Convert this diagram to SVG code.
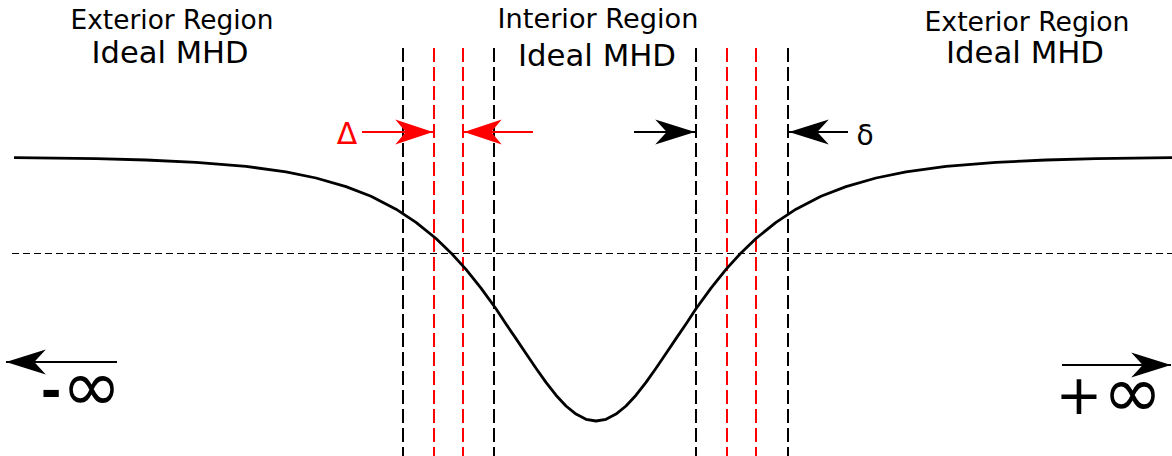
<svg xmlns="http://www.w3.org/2000/svg" width="1172" height="456" viewBox="0 0 1172 456">
<style>
.t{font-family:"DejaVu Sans","Liberation Sans",sans-serif;fill:#000;text-anchor:middle}
.h1{font-size:26px}
.h2{font-size:31px}
.vb{stroke:#000;stroke-width:2;stroke-dasharray:14,5;fill:none}
.vr{stroke:#f00;stroke-width:2;stroke-dasharray:14,5;fill:none}
.hd{stroke:#000;stroke-width:1;stroke-dasharray:7,4;fill:none}
.ab{stroke:#000;stroke-width:2;fill:none}
.ar{stroke:#f00;stroke-width:2;fill:none}
</style>
<defs>
<marker id="mb" markerUnits="userSpaceOnUse" markerWidth="44" markerHeight="30" refX="0" refY="0" viewBox="-40 -14 42 28" orient="auto" overflow="visible">
<path d="M0,0 L-38,-12 L-27,0 L-38,12 Z" fill="#000"/>
</marker>
<marker id="mr" markerUnits="userSpaceOnUse" markerWidth="44" markerHeight="30" refX="0" refY="0" viewBox="-40 -14 42 28" orient="auto" overflow="visible">
<path d="M0,0 L-36,-12 L-26,0 L-36,12 Z" fill="#f00"/>
</marker>
</defs>
<g id="labels">
<text class="t h1" x="172" y="29" textLength="203" lengthAdjust="spacingAndGlyphs">Exterior Region</text>
<text class="t h2" x="170" y="63" textLength="157" lengthAdjust="spacingAndGlyphs">Ideal MHD</text>
<text class="t h1" x="598" y="28" textLength="201" lengthAdjust="spacingAndGlyphs">Interior Region</text>
<text class="t h2" x="597" y="66" textLength="158" lengthAdjust="spacingAndGlyphs">Ideal MHD</text>
<text class="t h1" x="1027" y="31" textLength="205" lengthAdjust="spacingAndGlyphs">Exterior Region</text>
<text class="t h2" x="1025" y="63" textLength="158" lengthAdjust="spacingAndGlyphs">Ideal MHD</text>
</g>
<g id="guides">
<line class="hd" x1="12" y1="253.5" x2="1172" y2="253.5"/>
<line class="vb" x1="403" y1="48" x2="403" y2="456"/>
<line class="vr" x1="434" y1="48" x2="434" y2="456"/>
<line class="vr" x1="463" y1="48" x2="463" y2="456"/>
<line class="vb" x1="494" y1="48" x2="494" y2="456"/>
<line class="vb" x1="696" y1="48" x2="696" y2="456"/>
<line class="vr" x1="727" y1="48" x2="727" y2="456"/>
<line class="vr" x1="756" y1="48" x2="756" y2="456"/>
<line class="vb" x1="788" y1="48" x2="788" y2="456"/>
</g>
<g id="curve">
<polyline fill="none" stroke="#000" stroke-width="2.8" stroke-linejoin="round" points="14,157.6 96,158.7 146,160 196,162.3 246,166.4 286,171.9 316,178 346,186.6 371,196.3 396,209.2 416,222.3 436,238.5 451,252.9 466,269.4 481,288.1 496,308.7 506,324 516,338.6 526,353.5 536,368.3 546,382.4 556,395.2 566,406 576,414.1 586,419.3 596,421 606,419.3 616,414.1 626,406 636,395.2 646,382.4 656,368.3 666,353.5 676,338.6 686,324 696,308.7 711,288.1 726,269.4 741,252.9 756,238.5 776,222.3 796,209.2 821,196.3 846,186.6 876,178 906,171.9 946,166.4 996,162.3 1046,160 1096,158.7 1172,157.6"/>
</g>
<g id="connectors">
<line class="ar" x1="362" y1="132" x2="433" y2="132" marker-end="url(#mr)"/>
<line class="ar" x1="533" y1="132" x2="464" y2="132" marker-end="url(#mr)"/>
<line class="ab" x1="634" y1="132" x2="695" y2="132" marker-end="url(#mb)"/>
<line class="ab" x1="848" y1="132" x2="789" y2="132" marker-end="url(#mb)"/>
<line class="ab" x1="117" y1="362" x2="6" y2="362" marker-end="url(#mb)"/>
<line class="ab" x1="1062" y1="365" x2="1171" y2="365" marker-end="url(#mb)"/>
</g>
<g id="symbols">
<text class="t" x="347" y="144" style="font-size:30px;fill:#f00">Δ</text>
<text class="t" x="865" y="145" style="font-size:28px">δ</text>
<text class="t" x="81" y="411"><tspan dy="-3" style="font-size:50px;font-weight:bold">-</tspan><tspan dy="3" style="font-size:72px">∞</tspan></text>
<text class="t" x="1109" y="417"><tspan dy="-3" style="font-size:56px">+</tspan><tspan dy="3" style="font-size:72px">∞</tspan></text>
</g>
</svg>
